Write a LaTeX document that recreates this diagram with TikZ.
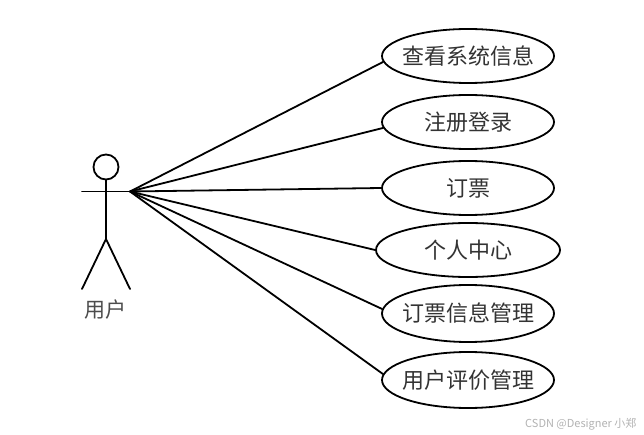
\documentclass[tikz,border=0pt]{standalone}
\usepackage{fontspec}
\setmainfont{Noto Sans CJK SC}
\usetikzlibrary{shapes.geometric}
\newcommand{\uctext}[2][0pt]{\raisebox{#1}{\makebox[0pt]{#2}}}
\tikzset{
	usecase/.style={draw,ellipse,line width=1.8pt,minimum width=172pt,minimum height=54pt,inner sep=0pt,text=black!80,font=\fontsize{22}{24}\selectfont},
	actorline/.style={line width=1.8pt},
	link/.style={line width=1.8pt},
}
\begin{document}
\begin{tikzpicture}[x=1pt,y=-1pt,line join=round,line cap=round]
		\useasboundingbox (0,0) rectangle (644,435);
		% actor
		\node[draw,circle,actorline,minimum size=25pt,inner sep=0pt] (head) at (106,167) {};
		\coordinate (neck) at (head.south);
		\coordinate (hip) at (106,239);
		\coordinate (handl) at (82,191.5);
		\coordinate (handr) at (130,191.5);
		\coordinate (footl) at (82,289);
		\coordinate (footr) at (130,289);
		\draw[actorline] (neck)--(hip);
		\draw[actorline] (handl)--(handr);
		\draw[actorline] (footl)--(hip)--(footr);
		\node[font=\fontsize{21}{24}\selectfont,text=black!70] (actor) at (105,310) {用户};
		% use cases
		\node[usecase] (chakan) at (468,56) {\uctext{查看系统信息}};
		\node[usecase] (zhuce) at (468,122) {\uctext{注册登录}};
		\node[usecase] (dingpiao) at (468,188) {\uctext{订票}};
		\node[usecase,minimum width=184pt] (geren) at (468,250) {\uctext[1pt]{个人中心}};
		\node[usecase,minimum height=57pt] (guanli) at (468,313.5) {\uctext[1pt]{订票信息管理}};
		\node[usecase,minimum height=56pt] (pingjia) at (468,380) {\uctext[2pt]{用户评价管理}};
		\draw[link] (handr)--(chakan.184);
		\draw[link] (handr)--(zhuce.184);
		\draw[link] (handr)--(dingpiao.west);
		\draw[link] (handr)--(geren.west);
		\draw[link] (handr)--(guanli.177);
		\draw[link] (handr)--(pingjia.176);
		% watermark
		\node[font=\fontsize{11}{12}\selectfont,text=black!30,anchor=east] (mark) at (640,424) {CSDN @Designer 小郑};
		\end{tikzpicture}
\end{document}
